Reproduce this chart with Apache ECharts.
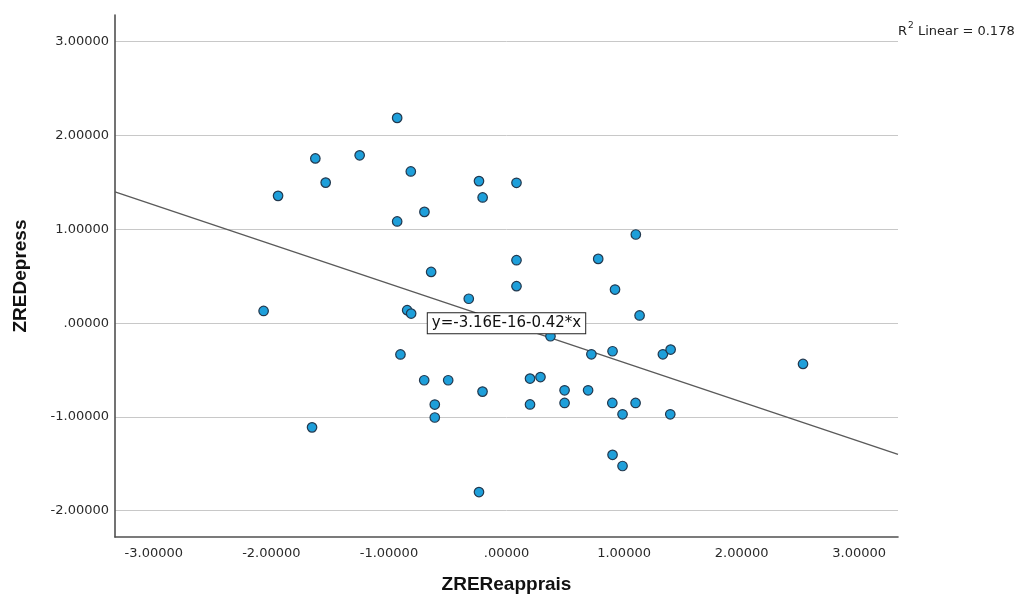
<!DOCTYPE html>
<html>
<head>
<meta charset="utf-8">
<script src="https://cdn.jsdelivr.net/npm/echarts@6/dist/echarts.min.js"></script>
<style>
html,body{margin:0;padding:0;background:#fff;}
#chart{width:1017px;height:597px;}
</style>
</head>
<body>
<div id="chart"></div>
<script>
// ---- data ----
const reapprais = [-2.066,-1.943,-1.654,-1.626,-1.538,-1.249,-0.930,-0.930,-0.814,-0.698,
  -0.234,-0.203,0.085,-0.641,-0.321,-0.845,-0.811,0.085,0.085,1.100,
  0.780,0.923,1.132,0.374,0.722,0.902,1.330,1.396,2.522,0.200,
  0.289,0.494,0.694,0.200,0.494,0.900,1.098,0.987,1.393,0.902,
  0.987,-0.902,-0.700,-0.496,-0.204,-0.610,-0.610,-0.234];
const depress = [0.130,1.357,-1.111,1.756,1.498,1.789,2.188,1.084,1.617,1.186,
  1.514,1.340,1.496,0.546,0.260,0.138,0.102,0.671,0.394,0.945,
  0.685,0.358,0.082,-0.140,-0.332,-0.300,-0.332,-0.282,-0.435,-0.591,
  -0.575,-0.716,-0.716,-0.867,-0.851,-0.851,-0.851,-0.972,-0.972,-1.404,
  -1.523,-0.334,-0.609,-0.609,-0.730,-0.868,-1.006,-1.801];
const fitCoef = [-3.16e-16, -0.42];      // intercept, slope
const fitLabel = ['y=-3.16E-16-0.42*x'];
const r2Label = ['Linear = 0.178'];
const xTicks = [-3,-2,-1,0,1,2,3];
const xTickLabels = ['-3.00000','-2.00000','-1.00000','.00000','1.00000','2.00000','3.00000'];
const yTicks = [-2,-1,0,1,2,3];
const yTickLabels = ['-2.00000','-1.00000','.00000','1.00000','2.00000','3.00000'];
const xRange = [-3.33, 3.33];
const yRange = [-2.28, 3.285];
const axisNames = ['ZREReapprais','ZREDepress'];

// ---- build ----
const points = reapprais.map((x,i)=>[x, depress[i]]);
const fitLine = xRange.map(x=>[x, fitCoef[0] + fitCoef[1]*x]);

function tickFmt(ticks, labels){
  return function(v){
    for (let i=0;i<ticks.length;i++){ if (Math.abs(v-ticks[i])<1e-6) return labels[i]; }
    return '';
  };
}

const FONT = 'DejaVu Sans';
const chart = echarts.init(document.getElementById('chart'), null, {renderer:'canvas'});
chart.setOption({
  animation:false,
  backgroundColor:'#ffffff',
  grid:{left:115, right:119, top:15, bottom:60, containLabel:false, outerBoundsMode:'none'},
  xAxis:{
    type:'value', min:xRange[0], max:xRange[1], minInterval:1, maxInterval:1,
    name:axisNames[0], nameLocation:'middle', nameGap:48,
    nameTextStyle:{fontFamily:'Liberation Sans', fontWeight:'bold', fontSize:19, color:'#111', verticalAlign:'middle'},
    axisLine:{show:true, onZero:false, lineStyle:{color:'#505050', width:1.6}},
    axisTick:{show:false},
    axisLabel:{formatter:tickFmt(xTicks,xTickLabels), margin:10, fontFamily:FONT, fontSize:13, color:'#2a2a2a', showMinLabel:false, showMaxLabel:false},
    splitLine:{show:false}
  },
  yAxis:{
    type:'value', min:yRange[0], max:yRange[1], minInterval:1, maxInterval:1,
    name:axisNames[1], nameLocation:'middle', nameGap:94, nameRotate:90,
    nameTextStyle:{fontFamily:'Liberation Sans', fontWeight:'bold', fontSize:19, color:'#111', verticalAlign:'middle'},
    axisLine:{show:true, onZero:false, lineStyle:{color:'#505050', width:1.6}},
    axisTick:{show:false},
    axisLabel:{formatter:tickFmt(yTicks,yTickLabels), margin:6, fontFamily:FONT, fontSize:13, color:'#2a2a2a', showMinLabel:false, showMaxLabel:false},
    splitLine:{show:true, showMinLine:false, showMaxLine:false, lineStyle:{color:'#c8c8c8', width:1}}
  },
  graphic:[{
    type:'text', left:898, top:21,
    style:{
      text:'{a|R}{s|2}{a| '+r2Label[0]+'}',
      rich:{
        a:{fontFamily:FONT, fontSize:13, fill:'#222', verticalAlign:'bottom', lineHeight:17},
        s:{fontFamily:FONT, fontSize:9, fill:'#222', verticalAlign:'top', lineHeight:17, padding:[0,0,7,1]}
      }
    }
  }],
  series:[
    {
      type:'line', data:fitLine, symbol:'none', silent:true, z:2,
      lineStyle:{color:'#5a5a5a', width:1.4},
      markPoint:{
        symbol:'circle', symbolSize:0, silent:true,
        data:[{coord:[0, fitCoef[0]], value:0}],
        label:{show:true, position:'inside', formatter:fitLabel[0],
          fontFamily:FONT, fontSize:15, color:'#111', backgroundColor:'#fff',
          borderColor:'#222', borderWidth:1, padding:[2,4,1,4], lineHeight:17}
      }
    },
    {
      type:'scatter', data:points, symbol:'circle', symbolSize:9.5, z:3,
      itemStyle:{color:'#1e9fda', borderColor:'#22384e', borderWidth:1.2, opacity:1}
    }
  ]
});
</script>
</body>
</html>
